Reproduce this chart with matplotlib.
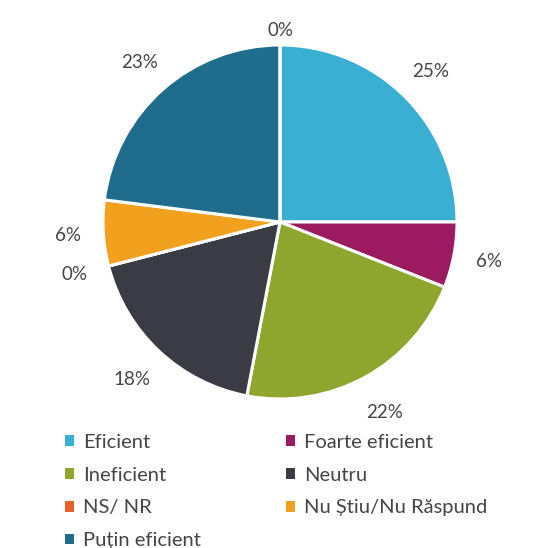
import matplotlib.pyplot as plt
from matplotlib.patches import Patch
import numpy as np

categories = ["Eficient", "Foarte eficient", "Ineficient", "Neutru", "NS/ NR",
              "Nu Știu/Nu Răspund", "Puțin eficient", ""]
values = [25, 6, 22, 18, 0, 6, 23, 0]
colors = ["#3aaed3", "#9b1a60", "#8ea62e", "#3b3b45", "#e8602c", "#f2a11f", "#1f6c8c", "#ffffff"]
label_dist = [1.2, 1.2, 1.23, 1.22, 1.2, 1.2, 1.2, 1.08]

plt.rcParams["font.family"] = ["Lato", "DejaVu Sans"]

W, H = 557, 548
fig = plt.figure(figsize=(W / 100, H / 100), dpi=100)
cx, cy, r = 280, 222, 177
ax = fig.add_axes([(cx - r) / W, (H - cy - r) / H, 2 * r / W, 2 * r / H])

wedges, _ = ax.pie(values, colors=colors, startangle=90, counterclock=False,
                   wedgeprops=dict(edgecolor="white", linewidth=2.2))
ax.set_xlim(-1, 1)
ax.set_ylim(-1, 1)
ax.set_aspect("equal")
ax.axis("off")

total = sum(values)
for w, v, d in zip(wedges, values, label_dist):
    ang = np.deg2rad((w.theta1 + w.theta2) / 2)
    ax.text(d * np.cos(ang), d * np.sin(ang), f"{v / total:.0%}",
            ha="center", va="center", fontsize=13.5, color="#454545")

order = [0, 2, 4, 6, 1, 3, 5]
handles = [Patch(facecolor=colors[i], edgecolor="none") for i in order]
fig.legend(handles, [categories[i] for i in order], ncol=2,
           loc="upper left", bbox_to_anchor=(55 / W, 1 - 424 / H),
           frameon=False, fontsize=14.5, labelcolor="#454545",
           handlelength=0.45, handleheight=0.45, handletextpad=0.45,
           columnspacing=4.2, labelspacing=0.78, borderpad=0)

fig.savefig("out.png", dpi=100)
